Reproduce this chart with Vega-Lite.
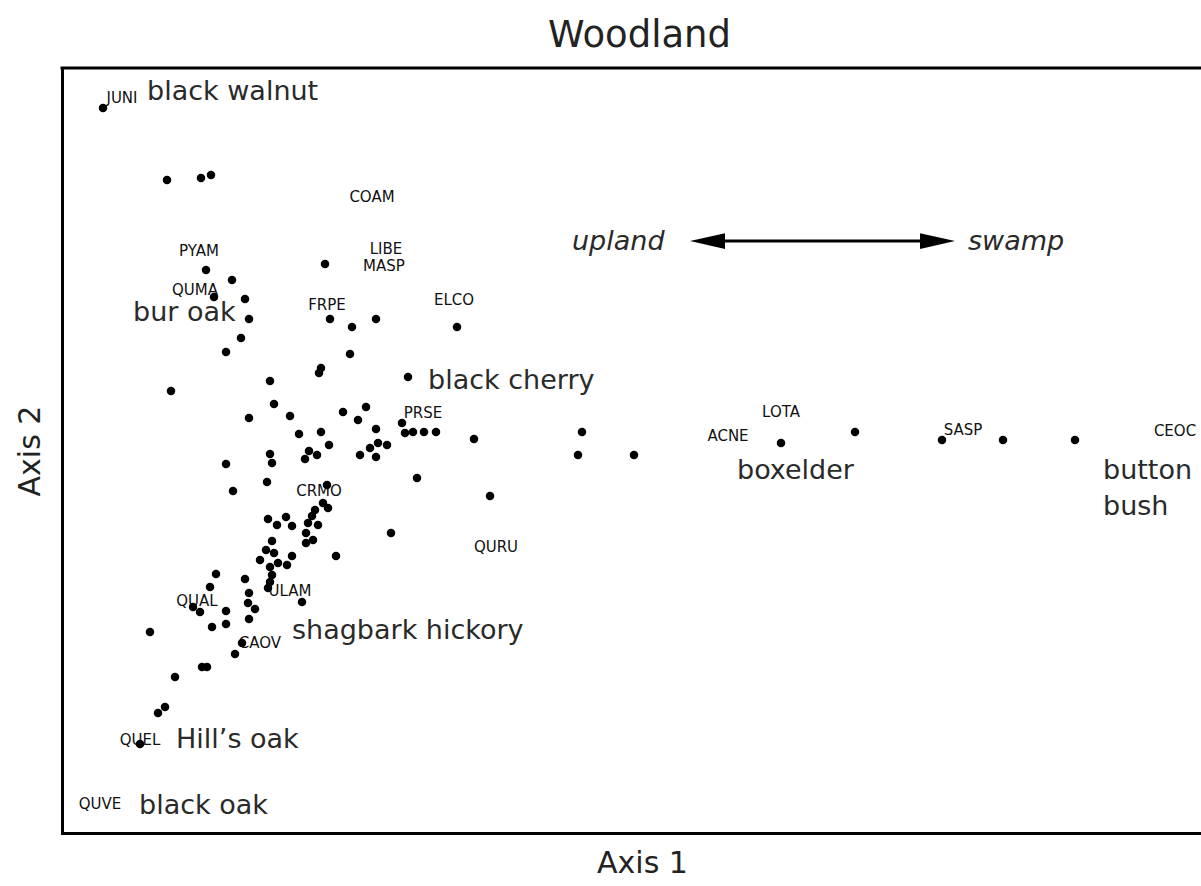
{
  "$schema": "https://vega.github.io/schema/vega-lite/v6.json",
  "width": 1139,
  "height": 765,
  "autosize": {"type": "none"},
  "padding": {"left": 62, "top": 68, "right": 0, "bottom": 53},
  "title": {"text": "Woodland", "font": "DejaVu Sans", "fontSize": 37, "fontWeight": "normal", "color": "#222222", "baseline": "alphabetic", "offset": -18, "anchor": "middle", "frame": "group", "dx": 8},
  "config": {
    "view": {"stroke": null},
    "axis": {"domain": true, "domainColor": "black", "domainWidth": 3, "domainCap": "square", "ticks": false, "labels": false, "grid": false, "minExtent": 0, "titleFont": "DejaVu Sans", "titleFontSize": 30, "titleFontWeight": "normal", "titleColor": "#222222"},
    "axisX": {"titlePadding": 39, "titleBaseline": "alphabetic", "titleX": 580, "titleAlign": "center"},
    "axisY": {"titlePadding": 23, "titleBaseline": "alphabetic"}
  },
  "datasets": {
    "sites": [
      {"x": 4.1, "y": 72.5}, {"x": 10.5, "y": 65.3}, {"x": 13.9, "y": 65.5}, {"x": 14.9, "y": 65.8},
      {"x": 14.4, "y": 56.3}, {"x": 17.0, "y": 55.3}, {"x": 15.2, "y": 53.6}, {"x": 18.3, "y": 53.4},
      {"x": 18.7, "y": 51.4}, {"x": 17.9, "y": 49.5}, {"x": 16.4, "y": 48.1}, {"x": 26.3, "y": 56.9},
      {"x": 26.8, "y": 51.4}, {"x": 29.0, "y": 50.6}, {"x": 31.4, "y": 51.4}, {"x": 28.8, "y": 47.9},
      {"x": 25.9, "y": 46.5}, {"x": 25.7, "y": 46.0}, {"x": 39.5, "y": 50.6}, {"x": 34.6, "y": 45.6},
      {"x": 10.9, "y": 44.2}, {"x": 20.8, "y": 45.2}, {"x": 21.2, "y": 42.9}, {"x": 18.7, "y": 41.5},
      {"x": 22.8, "y": 41.7}, {"x": 28.1, "y": 42.1}, {"x": 30.4, "y": 42.6}, {"x": 29.6, "y": 41.3},
      {"x": 34.0, "y": 41.0}, {"x": 34.3, "y": 40.0}, {"x": 35.1, "y": 40.1}, {"x": 36.2, "y": 40.1},
      {"x": 37.4, "y": 40.1}, {"x": 23.7, "y": 39.9}, {"x": 25.9, "y": 40.1}, {"x": 31.4, "y": 40.4},
      {"x": 26.7, "y": 38.8}, {"x": 31.6, "y": 39.0}, {"x": 32.5, "y": 38.8}, {"x": 30.8, "y": 38.5},
      {"x": 29.8, "y": 37.8}, {"x": 31.4, "y": 37.6}, {"x": 24.7, "y": 38.2}, {"x": 25.5, "y": 37.8},
      {"x": 24.3, "y": 37.4}, {"x": 20.8, "y": 37.9}, {"x": 21.0, "y": 37.0}, {"x": 16.4, "y": 36.9},
      {"x": 35.5, "y": 35.5}, {"x": 20.5, "y": 35.1}, {"x": 17.1, "y": 34.2}, {"x": 26.5, "y": 34.8},
      {"x": 41.2, "y": 39.4}, {"x": 52.0, "y": 40.1}, {"x": 51.6, "y": 37.8}, {"x": 57.2, "y": 37.8},
      {"x": 42.8, "y": 33.7}, {"x": 32.9, "y": 30.0}, {"x": 26.1, "y": 33.0}, {"x": 26.6, "y": 32.5},
      {"x": 25.3, "y": 32.3}, {"x": 25.0, "y": 31.7}, {"x": 24.6, "y": 31.0}, {"x": 25.6, "y": 30.8},
      {"x": 20.6, "y": 31.4}, {"x": 21.5, "y": 30.8}, {"x": 22.4, "y": 31.6}, {"x": 23.0, "y": 30.7},
      {"x": 24.4, "y": 30.0}, {"x": 25.1, "y": 29.3}, {"x": 24.4, "y": 29.0}, {"x": 21.0, "y": 29.2},
      {"x": 20.4, "y": 28.3}, {"x": 21.2, "y": 28.0}, {"x": 19.8, "y": 27.3}, {"x": 23.0, "y": 27.7},
      {"x": 22.5, "y": 26.8}, {"x": 21.6, "y": 27.0}, {"x": 20.8, "y": 26.6}, {"x": 27.4, "y": 27.7},
      {"x": 21.0, "y": 25.8}, {"x": 20.8, "y": 25.1}, {"x": 15.4, "y": 25.9}, {"x": 18.3, "y": 25.4},
      {"x": 14.8, "y": 24.6}, {"x": 20.6, "y": 24.5}, {"x": 18.7, "y": 24.0}, {"x": 24.0, "y": 23.1},
      {"x": 13.1, "y": 22.6}, {"x": 13.8, "y": 22.1}, {"x": 18.6, "y": 23.0}, {"x": 19.3, "y": 22.4},
      {"x": 16.4, "y": 22.2}, {"x": 18.7, "y": 21.4}, {"x": 15.0, "y": 20.6}, {"x": 16.4, "y": 20.9},
      {"x": 8.8, "y": 20.1}, {"x": 18.0, "y": 19.0}, {"x": 17.3, "y": 17.9}, {"x": 14.0, "y": 16.6},
      {"x": 14.5, "y": 16.6}, {"x": 11.3, "y": 15.6}, {"x": 10.3, "y": 12.6}, {"x": 9.6, "y": 12.0},
      {"x": 7.8, "y": 8.9}, {"x": 71.9, "y": 39.0}, {"x": 79.3, "y": 40.1}, {"x": 88.0, "y": 39.3},
      {"x": 94.1, "y": 39.3}, {"x": 101.3, "y": 39.3}
    ],
    "codes": [
      {"x": 6.0, "y": 73.5, "label": "JUNI"},
      {"x": 31.0, "y": 63.6, "label": "COAM"},
      {"x": 13.7, "y": 58.2, "label": "PYAM"},
      {"x": 32.4, "y": 58.4, "label": "LIBE"},
      {"x": 32.2, "y": 56.7, "label": "MASP"},
      {"x": 13.3, "y": 54.3, "label": "QUMA"},
      {"x": 26.5, "y": 52.8, "label": "FRPE"},
      {"x": 39.2, "y": 53.3, "label": "ELCO"},
      {"x": 36.1, "y": 42.0, "label": "PRSE"},
      {"x": 25.7, "y": 34.2, "label": "CRMO"},
      {"x": 43.4, "y": 28.6, "label": "QURU"},
      {"x": 22.8, "y": 24.2, "label": "ULAM"},
      {"x": 13.5, "y": 23.2, "label": "QUAL"},
      {"x": 19.8, "y": 19.0, "label": "CAOV"},
      {"x": 7.8, "y": 9.3, "label": "QUEL"},
      {"x": 3.8, "y": 2.9, "label": "QUVE"},
      {"x": 71.9, "y": 42.1, "label": "LOTA"},
      {"x": 66.6, "y": 39.7, "label": "ACNE"},
      {"x": 90.1, "y": 40.3, "label": "SASP"},
      {"x": 111.3, "y": 40.2, "label": "CEOC"}
    ],
    "names": [
      {"x": 8.5, "y": 73.3, "label": "black walnut"},
      {"x": 7.1, "y": 51.2, "label": "bur oak"},
      {"x": 36.6, "y": 44.4, "label": "black cherry"},
      {"x": 67.5, "y": 35.4, "label": "boxelder"},
      {"x": 104.1, "y": 35.4, "label": "button"},
      {"x": 104.1, "y": 31.8, "label": "bush"},
      {"x": 23.0, "y": 19.4, "label": "shagbark hickory"},
      {"x": 11.4, "y": 8.5, "label": "Hill’s oak"},
      {"x": 7.7, "y": 1.9, "label": "black oak"}
    ],
    "gradient": [
      {"x": 51.0, "y": 58.3, "label": "upland"},
      {"x": 90.6, "y": 58.3, "label": "swamp"}
    ],
    "arrowLine": [{"x": 64.0, "x2": 88.0, "y": 59.2}],
    "arrowHeads": [
      {"x": 64.55, "y": 59.2, "end": "left"},
      {"x": 87.55, "y": 59.2, "end": "right"}
    ]
  },
  "layer": [
    {
      "data": {"name": "codes"},
      "mark": {"type": "text", "font": "DejaVu Sans", "fontSize": 15, "color": "#111111", "align": "center", "baseline": "middle"},
      "encoding": {
        "x": {"field": "x", "type": "quantitative", "title": "Axis 1", "scale": {"domain": [0, 113.9], "nice": false, "zero": false}},
        "y": {"field": "y", "type": "quantitative", "title": "Axis 2", "scale": {"domain": [0, 76.5], "nice": false, "zero": false}},
        "text": {"field": "label"}
      }
    },
    {
      "data": {"name": "sites"},
      "mark": {"type": "point", "shape": "circle", "filled": true, "size": 72, "color": "black", "opacity": 1},
      "encoding": {
        "x": {"field": "x", "type": "quantitative", "title": "Axis 1"},
        "y": {"field": "y", "type": "quantitative", "title": "Axis 2"}
      }
    },
    {
      "data": {"name": "names"},
      "mark": {"type": "text", "font": "DejaVu Sans", "fontSize": 27, "color": "#2a2a2a", "align": "left", "baseline": "alphabetic"},
      "encoding": {
        "x": {"field": "x", "type": "quantitative", "title": "Axis 1"},
        "y": {"field": "y", "type": "quantitative", "title": "Axis 2"},
        "text": {"field": "label"}
      }
    },
    {
      "data": {"name": "gradient"},
      "mark": {"type": "text", "font": "DejaVu Sans", "fontSize": 27, "fontStyle": "italic", "color": "#2a2a2a", "align": "left", "baseline": "alphabetic"},
      "encoding": {
        "x": {"field": "x", "type": "quantitative", "title": "Axis 1"},
        "y": {"field": "y", "type": "quantitative", "title": "Axis 2"},
        "text": {"field": "label"}
      }
    },
    {
      "data": {"name": "arrowLine"},
      "mark": {"type": "rule", "color": "black", "strokeWidth": 3},
      "encoding": {
        "x": {"field": "x", "type": "quantitative", "title": "Axis 1"},
        "x2": {"field": "x2"},
        "y": {"field": "y", "type": "quantitative", "title": "Axis 2"}
      }
    },
    {
      "data": {"name": "arrowHeads"},
      "mark": {"type": "point", "filled": true, "size": 1225, "color": "black", "opacity": 1},
      "encoding": {
        "x": {"field": "x", "type": "quantitative", "title": "Axis 1"},
        "y": {"field": "y", "type": "quantitative", "title": "Axis 2"},
        "shape": {"field": "end", "type": "nominal", "legend": null, "scale": {"domain": ["left", "right"], "range": ["M-1,0L1,-0.45L1,0.45Z", "M1,0L-1,-0.45L-1,0.45Z"]}}
      }
    },
    {
      "data": {"values": [{"edge": "top"}]},
      "mark": {"type": "rule", "color": "black", "strokeWidth": 3, "strokeCap": "square"},
      "encoding": {
        "y": {"datum": 76.5, "type": "quantitative", "title": "Axis 2"}
      }
    }
  ]
}
